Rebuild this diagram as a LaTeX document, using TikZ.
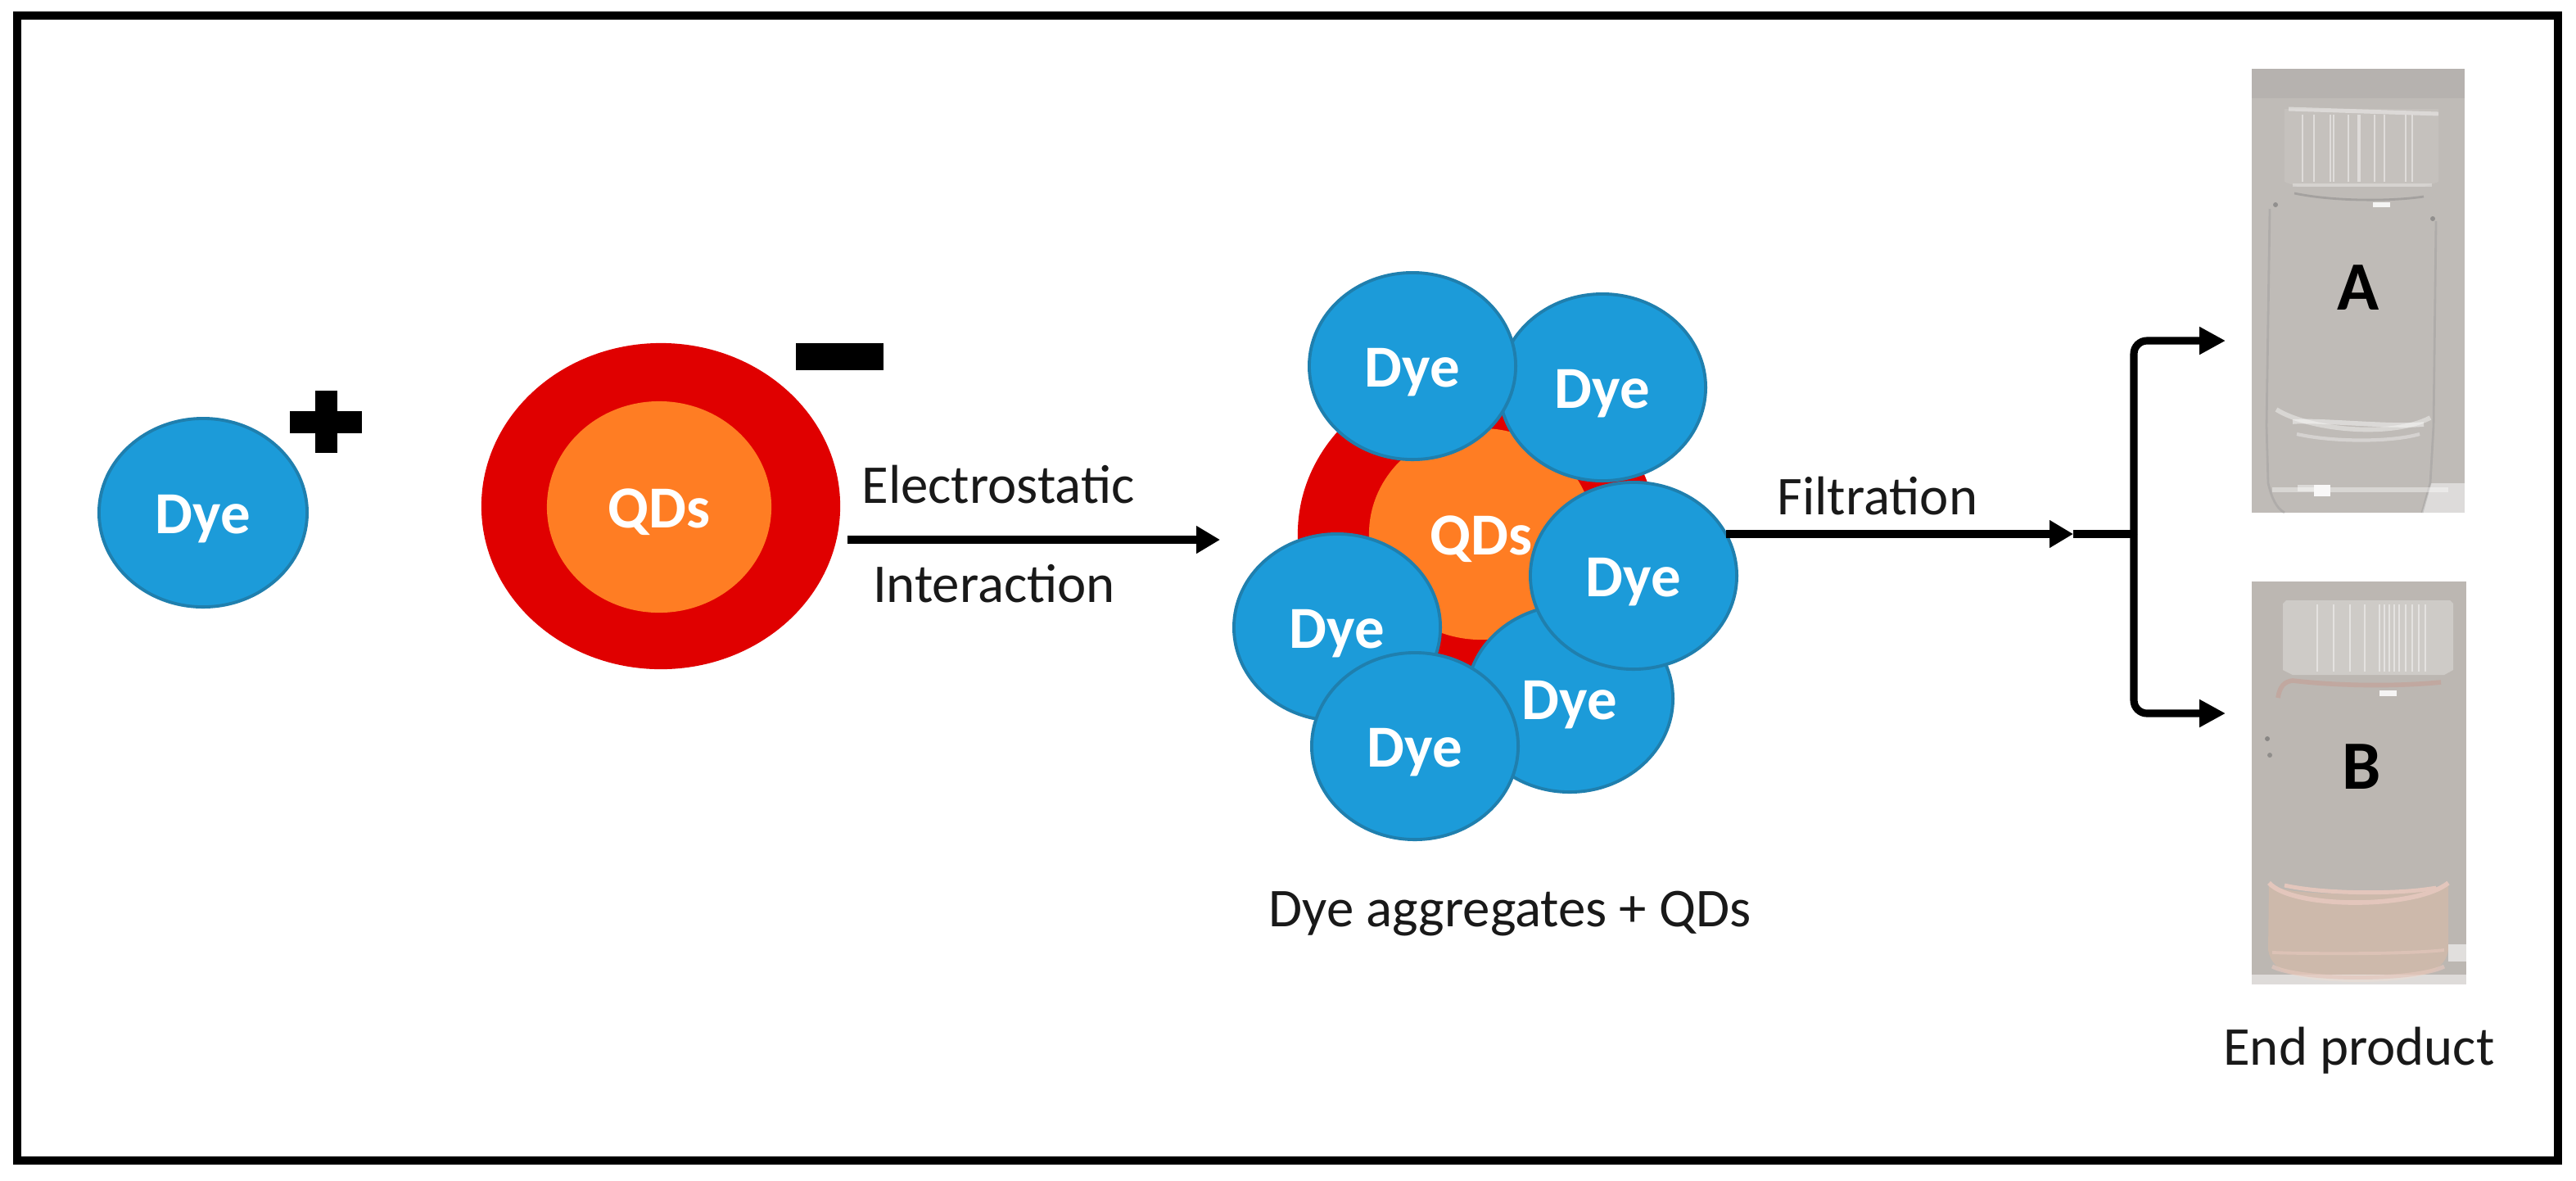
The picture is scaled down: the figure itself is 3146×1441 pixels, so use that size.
\documentclass[tikz,border=0pt]{standalone}
\usepackage{fontspec}
\setmainfont{Carlito}
\usetikzlibrary{shapes.geometric,arrows.meta}
\definecolor{dyeblue}{HTML}{1C9BD9}
\definecolor{dyeedge}{HTML}{1F7FAE}
\definecolor{shellred}{HTML}{E00000}
\definecolor{coreorange}{HTML}{FF7D23}
\definecolor{photoa}{HTML}{BFBBB7}
\definecolor{photob}{HTML}{BCB7B2}
\definecolor{capa}{HTML}{C5C1BD}
\definecolor{capb}{HTML}{CECBC7}
\definecolor{liquidb}{HTML}{CDB9AB}
\definecolor{pinkb}{HTML}{E3C6BC}
\tikzset{
  blob/.style={ellipse,inner sep=0pt,outer sep=0pt,text height=0.5cm,text depth=0pt,text=white,font=\fontsize{20.7}{24}\selectfont\bfseries},
  dyeblob/.style={blob,draw=dyeedge,line width=1.1pt,fill=dyeblue,minimum width=2.52cm,minimum height=2.28cm},
  shell/.style={ellipse,fill=shellred,inner sep=0pt,minimum width=4.38cm,minimum height=3.98cm},
  core/.style={blob,fill=coreorange,minimum width=2.74cm,minimum height=2.58cm},
  caption/.style={anchor=base,inner sep=0pt,font=\fontsize{19}{23}\selectfont,text=black!90},
  letter/.style={anchor=base,inner sep=0pt,font=\fontsize{24}{28}\selectfont\bfseries,text=black},
  flow/.style={line width=2.6pt,draw=black,-{Triangle[length=0.29cm,width=0.32cm]}},
  branch/.style={line width=2.6pt,draw=black,rounded corners=0.16cm,-{Triangle[length=0.32cm,width=0.32cm]}},
  photo/.style={draw=none,inner sep=0pt,minimum width=2.6cm},
  faint/.style={line width=0.7pt,opacity=0.45}
}
\begin{document}
\begin{tikzpicture}[x=0.01cm,y=-0.01cm]
\useasboundingbox (0,0) rectangle (3146,1441);
\fill[white] (0,0) rectangle (3146,1441);
\draw[line width=2.7pt,black] (21,19) rectangle (3124,1417);

% --- left: free dye and free QDs
\node[dyeblob,minimum width=2.54cm,minimum height=2.3cm] (dye0) at (248,626) {Dye};
\fill (385,477) rectangle (412,553);
\fill (354,502) rectangle (442,529);
\node[shell] (shell0) at (807,618) {};
\node[core] (core0) at (805,619) {QDs};
\fill (972,419) rectangle (1079,452);

% --- first arrow and labels
\coordinate (e0) at (1035,659);
\coordinate (e1) at (1490,659);
\draw[flow] (e0) -- (e1);
\node[caption] (t1) at (1219,614) {Electrostatic};
\node[caption] (t2) at (1214,735) {Interaction};

% --- filtration connector (runs under the cluster)
\coordinate (junction) at (2606,652);
\coordinate (ftip) at (2532,652);
\coordinate (up) at (2718,416);
\coordinate (down) at (2718,871);

% --- cluster
\node[shell] (shell1) at (1804,652) {};
\node[core] (core1) at (1809,652) {QDs};
\node[dyeblob] (dye2) at (1957,473) {Dye};
\node[dyeblob] (dye1) at (1725,447) {Dye};
\node[dyeblob] (dye5) at (1917,853) {Dye};
\node[dyeblob] (dye3) at (1995,703) {Dye};
\node[dyeblob] (dye4) at (1633,766) {Dye};
\node[dyeblob] (dye6) at (1728,911) {Dye};
\node[caption] (t3) at (1844,1131) {Dye aggregates + QDs};

\draw[flow] (dye3.24 |- junction) -- (ftip);
\draw[line width=2.6pt] (ftip) -- (junction);
\node[caption] (t4) at (2293,628) {Filtration};
\draw[branch] (junction) -- (2606,416) -- (up);
\draw[branch] (junction) -- (2606,871) -- (down);

% --- photo A
\node[photo,fill=photoa,minimum height=5.42cm] (vialA) at (2880,355) {};
\fill[photoa!88!black,opacity=0.35] (2750,84) rectangle (3010,120);
\fill[black!3,opacity=0.55] (2969,590) -- (3010,590) -- (3010,626) -- (2958,626) -- cycle;
\fill[capa] (2790,133) -- (2978,133) -- (2978,222) -- (2960,228) -- (2806,228) -- (2790,222) -- cycle;
\foreach \sx in {2812,2826,2846,2850,2868,2880,2882,2900,2912,2938,2946}
  \draw[white,faint] (\sx,140) -- (\sx,222);
\draw[white,line width=1.4pt,opacity=0.4] (2795,133) -- (2978,139);
\draw[white,line width=1.2pt,opacity=0.3] (2800,226) -- (2970,226);
\draw[black!55,line width=0.8pt,opacity=0.35] (2802,236) .. controls (2850,246) and (2920,246) .. (2960,240);
\fill[white!85!photoa] (2898,247) rectangle (2919,253);
\fill[black!55,opacity=0.6] (2779,250) circle (3);
\fill[black!55,opacity=0.6] (2971,267) circle (3);
\draw[black!45,line width=0.8pt,opacity=0.3] (2772,255) -- (2768,520) -- (2770,590) .. controls (2775,610) and (2780,620) .. (2790,626);
\draw[black!45,line width=0.8pt,opacity=0.3] (2975,270) -- (2972,520) -- (2968,590) -- (2958,626);
\draw[white,line width=1.6pt,opacity=0.4] (2780,500) .. controls (2820,525) and (2920,535) .. (2968,510);
\draw[white,line width=1.6pt,opacity=0.45] (2800,515) .. controls (2830,512) and (2920,522) .. (2960,518);
\draw[white,line width=1.2pt,opacity=0.35] (2805,530) .. controls (2850,540) and (2920,540) .. (2955,530);
\draw[white,line width=1.6pt,opacity=0.4] (2775,598) -- (2990,0598) ;
\fill[white!90!photoa] (2826,592) rectangle (2846,606);
\fill[white,opacity=0.45] (2806,592) rectangle (2826,600);
\node[letter] (la) at (2880,378) {A};

% --- photo B
\node[photo,fill=photob,minimum width=2.62cm,minimum height=4.92cm] (vialB) at (2881,956) {};
\fill[capb] (2788,737) -- (2792,733) -- (2992,733) -- (2996,737) -- (2996,818) -- (2985,824) -- (2800,824) -- (2788,818) -- cycle;
\foreach \sx in {2830,2850,2870,2888,2906,2912,2918,2924,2930,2938,2946,2954,2962}
  \draw[white,faint] (\sx,738) -- (\sx,820);
\draw[pinkb!85!black,line width=1.6pt] (2782,852) .. controls (2784,838) and (2790,832) .. (2800,831) .. controls (2860,838) and (2930,838) .. (2981,833);
\fill[white!85!photob] (2906,843) rectangle (2927,850);
\fill[black!60,opacity=0.6] (2769,902) circle (3);
\fill[black!60,opacity=0.5] (2772,922) circle (3);
\fill[liquidb] (2771,1078) .. controls (2780,1096) and (2960,1096) .. (2990,1078) -- (2990,1160) .. controls (2985,1190) and (2950,1198) .. (2880,1199) .. controls (2810,1198) and (2775,1190) .. (2770,1160) -- cycle;
\fill[black!2,opacity=0.55] (2750,1190) rectangle (3012,1202);
\fill[black!2,opacity=0.6] (2990,1153) rectangle (3012,1174);
\draw[pinkb,line width=1.6pt] (2771,1078) .. controls (2800,1110) and (2950,1110) .. (2990,1078);
\draw[pinkb,line width=1.4pt] (2790,1081) .. controls (2840,1092) and (2930,1092) .. (2975,1084);
\draw[pinkb,line width=1.1pt,opacity=0.7] (2775,1163) .. controls (2830,1165) and (2940,1165) .. (2985,1160);
\draw[pinkb,line width=1.4pt,opacity=0.7] (2775,1180) .. controls (2810,1198) and (2950,1198) .. (2985,1180);
\node[letter] (lb) at (2884,963) {B};
\node[caption] (t5) at (2881,1300) {End product};
\end{tikzpicture}
\end{document}
